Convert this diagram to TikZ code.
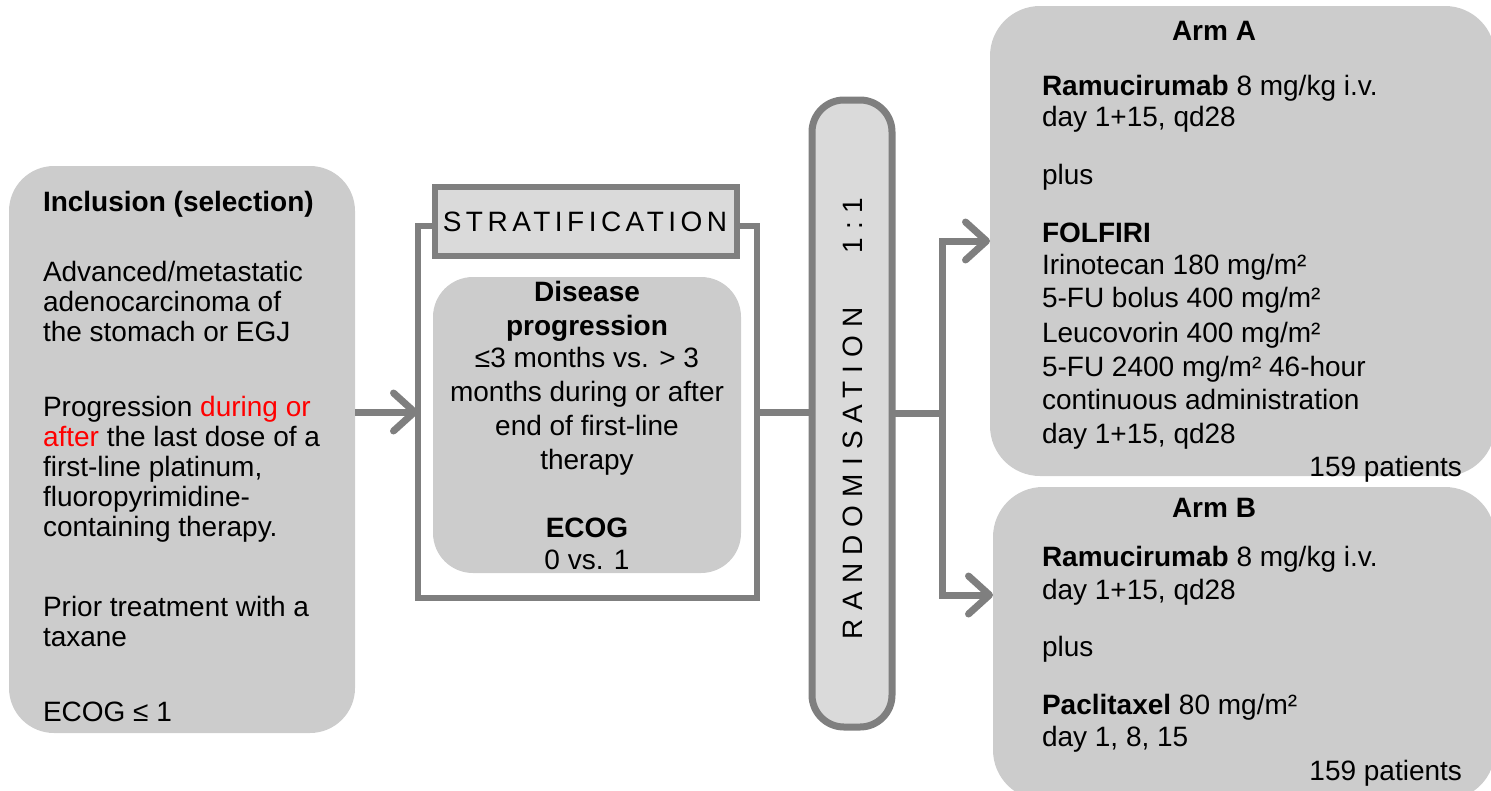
\documentclass[tikz,border=0pt]{standalone}
\usepackage{fontspec}
\setmainfont{Liberation Sans}
\usetikzlibrary{arrows.meta}
\definecolor{boxgray}{HTML}{CCCCCC}
\definecolor{pillgray}{HTML}{DADADA}
\definecolor{linegray}{HTML}{7F7F7F}
\definecolor{hlred}{HTML}{FF0000}
\begin{document}
\begin{tikzpicture}[x=1pt,y=-1pt,
  every node/.style={font=\fontsize{28}{33}\selectfont, inner sep=0pt, outer sep=0pt},
  txt/.style={anchor=base west},
  ctr/.style={anchor=base},
  rgt/.style={anchor=base east},
  panel/.style={fill=boxgray, draw=none},
  conn/.style={draw=linegray, line width=7pt},
  arr/.style={conn, -{Straight Barb[length=21pt,width=38pt,round]}},
  framebox/.style={draw=linegray, line width=6.5pt},
  spaced/.style={font=\fontsize{28}{33}\selectfont\addfontfeature{LetterSpace=#1}}
]
\clip (0,0) rectangle (1491,790);

% ---- shapes ----
\node[panel, rounded corners=45pt, minimum width=346pt, minimum height=567pt] (incl) at (182,449.5) {};
\node[framebox, minimum width=339pt, minimum height=372pt] (strat) at (587.5,412) {};
\node[framebox, fill=pillgray, minimum width=302pt, minimum height=69pt] (stratlabel) at (586,221.5) {};
\node[spaced=16] (stratxt) at (585,221.5) {STRATIFICATION};
\node[panel, rounded corners=40pt, minimum width=308pt, minimum height=296pt] (prog) at (587,425) {};
\node[framebox, line width=7pt, fill=pillgray, rounded corners=32pt, minimum width=80pt, minimum height=627pt] (rand) at (852,413.5) {};
\node[rotate=90, spaced=29, anchor=west] (randtxt) at (853,639) {RANDOMISATION};
\node[rotate=90, spaced=29, anchor=west] (ratio) at (853,253) {1:1};
\node[panel, rounded corners=50pt, minimum width=505pt, minimum height=470pt] (armA) at (1242.5,241) {};
\node[panel, rounded corners=50pt, minimum width=502pt, minimum height=313pt] (armB) at (1244,643.5) {};

% ---- connectors ----
\draw[arr] (incl.east |- strat.west) -- (strat.west);
\draw[conn] (strat.east) -- (strat.east -| rand.west);
\coordinate (fork) at (942,413);
\coordinate (armBin) at (993,595);
\draw[conn] (rand.east |- fork) -- (fork);
\draw[arr] (fork) |- (armA.west);
\draw[arr] (fork) |- (armBin);

% ---- inclusion criteria ----
\node[txt] (i1) at (43,211) {\textbf{Inclusion (selection)}};
\node[txt] (i2) at (43,281) {Advanced/metastatic};
\node[txt] (i3) at (43,311) {adenocarcinoma of};
\node[txt] (i4) at (43,341) {the stomach or EGJ};
\node[txt] (i5) at (43,416) {Progression \textcolor{hlred}{during or}};
\node[txt] (i6) at (43,446) {\textcolor{hlred}{after} the last dose of a};
\node[txt] (i7) at (43,476) {first-line platinum,};
\node[txt] (i8) at (43,506) {fluoropyrimidine-};
\node[txt] (i9) at (43,536) {containing therapy.};
\node[txt] (i10) at (43,616) {Prior treatment with a};
\node[txt] (i11) at (43,646) {taxane};
\node[txt] (i12) at (43,721) {ECOG ≤ 1};

% ---- stratification factors ----
\node[ctr] (s1) at (587,301) {\textbf{Disease}};
\node[ctr] (s2) at (587,335) {\textbf{progression}};
\node[ctr] (s3) at (587,367) {≤3 months vs. > 3};
\node[ctr] (s4) at (587,401) {months during or after};
\node[ctr] (s5) at (587,435) {end of first-line};
\node[ctr] (s6) at (587,469) {therapy};
\node[ctr] (s7) at (587,537) {\textbf{ECOG}};
\node[ctr] (s8) at (587,569) {0 vs. 1};

% ---- arm A ----
\node[ctr] (a0) at (1214,40) {\textbf{Arm A}};
\node[txt] (a1) at (1042,95) {\textbf{Ramucirumab} 8 mg/kg i.v.};
\node[txt] (a2) at (1042,126) {day 1+15, qd28};
\node[txt] (a3) at (1042,184) {plus};
\node[txt] (a4) at (1042,242) {\textbf{FOLFIRI}};
\node[txt] (a5) at (1042,274) {Irinotecan 180 mg/m²};
\node[txt] (a6) at (1042,307) {5-FU bolus 400 mg/m²};
\node[txt] (a7) at (1042,342) {Leucovorin 400 mg/m²};
\node[txt] (a8) at (1042,376) {5-FU 2400 mg/m² 46-hour};
\node[txt] (a9) at (1042,409) {continuous administration};
\node[txt] (a10) at (1042,443) {day 1+15, qd28};
\node[rgt] (a11) at (1462,476) {159 patients};

% ---- arm B ----
\node[ctr] (b0) at (1214,517) {\textbf{Arm B}};
\node[txt] (b1) at (1042,566) {\textbf{Ramucirumab} 8 mg/kg i.v.};
\node[txt] (b2) at (1042,599) {day 1+15, qd28};
\node[txt] (b3) at (1042,656) {plus};
\node[txt] (b4) at (1042,714) {\textbf{Paclitaxel} 80 mg/m²};
\node[txt] (b5) at (1042,746) {day 1, 8, 15};
\node[rgt] (b6) at (1462,780) {159 patients};
\end{tikzpicture}
\end{document}
